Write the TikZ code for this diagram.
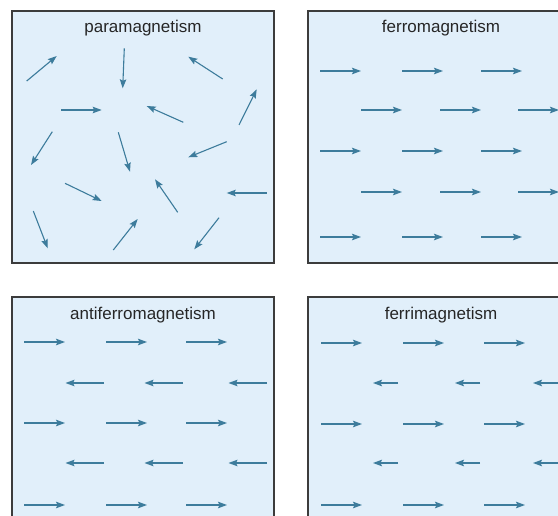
\documentclass[tikz,border=0pt]{standalone}
\usepackage{fontspec}
\setmainfont{Liberation Sans}
\usetikzlibrary{arrows.meta}
\definecolor{panelfill}{HTML}{E1EFFA}
\definecolor{panelline}{HTML}{3C3C3C}
\definecolor{spin}{HTML}{3D7C9C}
\begin{document}
\begin{tikzpicture}[x=1pt,y=-1pt,
  panel/.style={fill=panelfill,draw=panelline,line width=1.3pt},
  ttl/.style={font=\fontsize{17}{20}\selectfont,text=black!85,inner sep=0pt},
  spinarrow/.style={draw=spin,line width=1.1pt,-{Stealth[length=9pt,width=6.5pt,inset=1.5pt]}}]
\useasboundingbox (0,0) rectangle (558,516);
\begin{scope}
\clip (0,0) rectangle (558,516);
% panels
\draw[panel] (12,11) rectangle (274,263);
\draw[panel] (308,11) rectangle (570,263);
\draw[panel] (12,297) rectangle (274,549);
\draw[panel] (308,297) rectangle (570,549);
% titles
\node[ttl] (tpara) at (143,28) {paramagnetism};
\node[ttl] (tferro) at (441,28) {ferromagnetism};
\node[ttl] (tanti) at (143,315) {antiferromagnetism};
\node[ttl] (tferri) at (441,315) {ferrimagnetism};
% paramagnetism
\foreach \ax/\ay/\bx/\by in {
  26.7/81/56.7/56, 124.3/48.3/122.7/88.3, 222.7/79/188.3/56.7,
  61/110/101.7/110, 183.3/122.3/146.7/106, 239/125/256.7/89.3,
  52.3/131.7/31/165, 118.3/132.3/130/171.7, 226.7/141.7/188.3/157.3,
  65/183.3/101.7/201, 177.7/212.3/155/179.3, 266.7/193/226.7/193,
  33.3/211/47.7/248.3, 113.3/250/137.7/219, 219/217.7/194.3/249.3}
  \draw[spinarrow] (\ax,\ay) -- (\bx,\by);
% ferromagnetism
\foreach \y in {71,151,237}
  \foreach \x in {320,402,481}
    \draw[spinarrow] (\x,\y) -- ++(41,0);
\foreach \y in {110,192}
  \foreach \x in {361,440,518}
    \draw[spinarrow] (\x,\y) -- ++(41,0);
% antiferromagnetism
\foreach \y in {342,423,505}
  \foreach \x in {24,106,186}
    \draw[spinarrow] (\x,\y) -- ++(41,0);
\foreach \y in {383,463}
  \foreach \x in {104,183,267}
    \draw[spinarrow] (\x,\y) -- ++(-38.5,0);
% ferrimagnetism
\foreach \y in {343,424,505}
  \foreach \x in {321,403,484}
    \draw[spinarrow] (\x,\y) -- ++(41,0);
\foreach \y in {383,463}
  \foreach \x in {398,480,558}
    \draw[spinarrow] (\x,\y) -- ++(-25,0);
\end{scope}
\end{tikzpicture}
\end{document}
